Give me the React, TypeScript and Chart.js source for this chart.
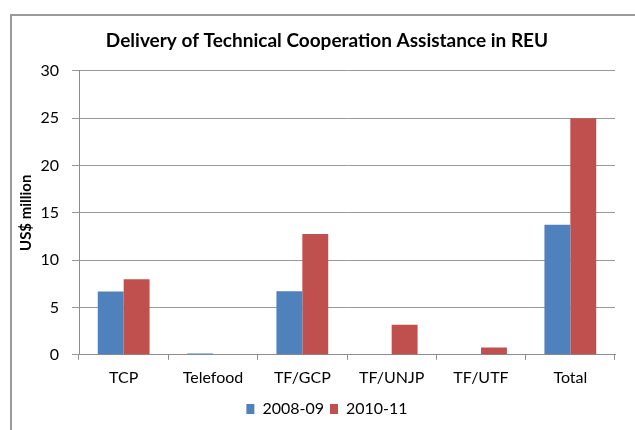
import React, { useEffect, useRef } from "react";
import { Chart, registerables } from "chart.js";

Chart.register(...registerables);

const categories = ["TCP", "Telefood", "TF/GCP", "TF/UNJP", "TF/UTF", "Total"];
const series2008 = [6.68, 0.15, 6.7, 0, 0, 13.75];
const series2010 = [7.98, 0, 12.75, 3.18, 0.77, 25.0];
const seriesLabels = ["2008-09", "2010-11"];
const yTicks = [0, 5, 10, 15, 20, 25, 30];
const yTitle = "US$ million";

const FONT = "Lato, 'Liberation Sans', sans-serif";

const yTitlePlugin = {
  id: "yTitlePlugin",
  afterDraw(chart: any) {
    const { ctx, chartArea } = chart;
    ctx.save();
    ctx.translate(26, (chartArea.top + chartArea.bottom) / 2);
    ctx.rotate(-Math.PI / 2);
    ctx.fillStyle = "#000";
    ctx.font = `bold 15px ${FONT}`;
    ctx.textAlign = "center";
    ctx.textBaseline = "middle";
    ctx.fillText(yTitle, 0, 0);
    ctx.restore();
  },
};

export default function App() {
  const ref = useRef<HTMLCanvasElement | null>(null);

  useEffect(() => {
    document.body.style.margin = "0";
    const ctx = ref.current!.getContext("2d")!;
    const chart = new Chart(ctx, {
      type: "bar",
      data: {
        labels: categories,
        datasets: [
          {
            label: seriesLabels[0],
            data: series2008,
            backgroundColor: "#4F81BD",
            borderWidth: 0,
            categoryPercentage: 0.58,
            barPercentage: 1,
          },
          {
            label: seriesLabels[1],
            data: series2010,
            backgroundColor: "#C0504D",
            borderWidth: 0,
            categoryPercentage: 0.58,
            barPercentage: 1,
          },
        ],
      },
      options: {
        animation: false,
        responsive: false,
        maintainAspectRatio: false,
        layout: { padding: { left: 39, right: 20, top: 0, bottom: 3 } },
        plugins: {
          title: {
            display: true,
            text: "Delivery of Technical Cooperation Assistance in REU",
            color: "#000",
            font: { family: FONT, size: 19, weight: "bold" },
            padding: { top: 29, bottom: 19 },
          },
          legend: {
            position: "bottom",
            labels: {
              color: "#000",
              boxWidth: 8,
              boxHeight: 10,
              padding: 6,
              font: { family: FONT, size: 16 },
            },
          },
          tooltip: { enabled: false },
        },
        scales: {
          x: {
            grid: {
              display: true,
              drawOnChartArea: false,
              drawTicks: true,
              tickLength: 5,
              color: "#8c8c8c",
              offset: true,
            },
            border: { display: true, color: "#8c8c8c" },
            ticks: {
              color: "#000",
              font: { family: FONT, size: 16 },
              padding: 8,
              maxRotation: 0,
            },
          },
          y: {
            min: 0,
            max: 30,
            afterBuildTicks: (axis: any) => {
              axis.ticks = yTicks.map((v) => ({ value: v }));
            },
            afterFit: (axis: any) => {
              axis.width = 40;
            },
            grid: {
              color: "#999",
              tickLength: 7,
              drawTicks: true,
            },
            border: { display: true, color: "#8c8c8c" },
            ticks: {
              color: "#000",
              font: { family: FONT, size: 16 },
              padding: 13,
            },
          },
        },
      },
      plugins: [yTitlePlugin],
    });
    return () => chart.destroy();
  }, []);

  return (
    <div style={{ position: "relative", width: 635, height: 430, overflow: "hidden", background: "#fff" }}>
      <div
        style={{
          position: "absolute",
          left: 10,
          top: 14,
          width: 700,
          height: 500,
          border: "2px solid #9a9a9a",
          boxSizing: "border-box",
        }}
      />
      <canvas ref={ref} width={635} height={430} style={{ position: "absolute", left: 0, top: 0 }} />
    </div>
  );
}
